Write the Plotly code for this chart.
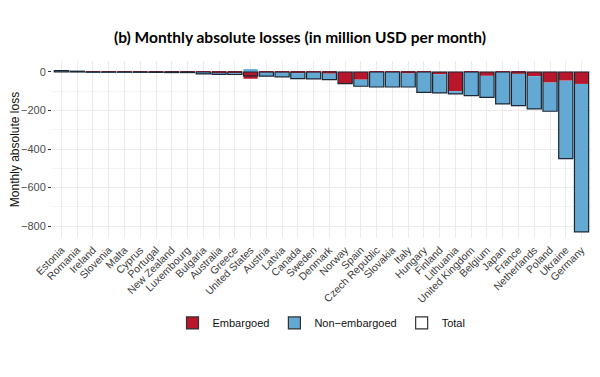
import plotly.graph_objects as go

countries = ["Estonia", "Romania", "Ireland", "Slovenia", "Malta", "Cyprus", "Portugal",
             "New Zealand", "Luxembourg", "Bulgaria", "Australia", "Greece", "United States",
             "Austria", "Latvia", "Canada", "Sweden", "Denmark", "Norway", "Spain",
             "Czech Republic", "Slovakia", "Italy", "Hungary", "Finland", "Lithuania",
             "United Kingdom", "Belgium", "Japan", "France", "Netherlands", "Poland",
             "Ukraine", "Germany"]
embargoed = [0, 0, -0.5, -0.5, -0.5, -0.5, -1, -1, -1, -2, -10, -6, -35,
             -2, -2, -6, -2, -9, -60, -40,
             -1, -1, -8, -1, -12, -100,
             -1, -20, -1, -10, -22, -55,
             -45, -62]
non_embargoed = [7, 4, -0.5, -0.5, -0.5, -1, -1, -2, -2, -8, -2, -7, 15,
                 -20, -23, -29, -34, -31, 0, -34,
                 -77, -77, -70, -105, -97, -14,
                 -122, -112, -165, -165, -170, -149,
                 -405, -768]
totals = [e + n for e, n in zip(embargoed, non_embargoed)]

RED = "#B8162B"
BLUE = "#63A9D3"
EDGE = "#1c2733"

fig = go.Figure()
fig.add_trace(go.Bar(x=countries, y=embargoed, name="Embargoed", width=0.9,
                     marker=dict(color=RED, line=dict(width=0)), showlegend=False))
fig.add_trace(go.Bar(x=countries, y=non_embargoed, name="Non-embargoed", width=0.9,
                     marker=dict(color=BLUE, line=dict(width=0)), showlegend=False))
fig.add_trace(go.Bar(x=countries, y=totals, name="Total", width=0.9,
                     xaxis="x2", yaxis="y2",
                     marker=dict(color="rgba(0,0,0,0)", line=dict(color=EDGE, width=1.2)),
                     showlegend=False))
# legend entries
for nm, col in [("Embargoed", RED), ("Non\u2212embargoed", BLUE), ("Total", "white")]:
    fig.add_trace(go.Bar(x=[None], y=[None], name=nm,
                         marker=dict(color=col, line=dict(color="#333333", width=1.2))))

YR = [-862, 57]
fig.update_layout(
    width=584, height=361,
    barmode="relative",
    paper_bgcolor="white", plot_bgcolor="white",
    margin=dict(l=44, r=1, t=53, b=131, autoexpand=False),
    title=dict(text="<b>(b) Monthly absolute losses (in million USD per month)</b>",
               x=0.5, xanchor="center", xref="container", y=0.917, yanchor="middle",
               yref="container",
               font=dict(family="Lato", size=15.5, color="#000000")),
    font=dict(family="Liberation Sans", color="#3d3d3d"),
    xaxis=dict(type="category", categoryorder="array", categoryarray=countries,
               range=[-0.6, len(countries) - 0.4], tickangle=-45, automargin=False,
               showgrid=True, gridcolor="#ebebeb", gridwidth=1, zeroline=False,
               showline=False, ticks="", ticklabelstandoff=3,
               tickfont=dict(size=10.5, color="#3d3d3d")),
    yaxis=dict(range=YR, dtick=200, showgrid=True, gridcolor="#ebebeb", gridwidth=1,
               automargin=False,
               minor=dict(dtick=100, showgrid=True, gridcolor="#f3f3f3", gridwidth=0.6),
               zeroline=False, showline=False, ticks="outside", ticklen=3,
               tickcolor="#333333", tickfont=dict(size=11, color="#4d4d4d"),
               title=dict(text="Monthly absolute loss", font=dict(size=12, color="#111111"),
                          standoff=6)),
    xaxis2=dict(type="category", categoryorder="array", categoryarray=countries,
                range=[-0.6, len(countries) - 0.4], overlaying="x", visible=False),
    yaxis2=dict(range=YR, overlaying="y", visible=False),
    legend=dict(orientation="h", x=0.5, xanchor="center", y=-0.48, yanchor="middle",
                font=dict(size=11, color="#111111"), traceorder="normal",
                itemwidth=30),
)
fig.write_html("out.html")
